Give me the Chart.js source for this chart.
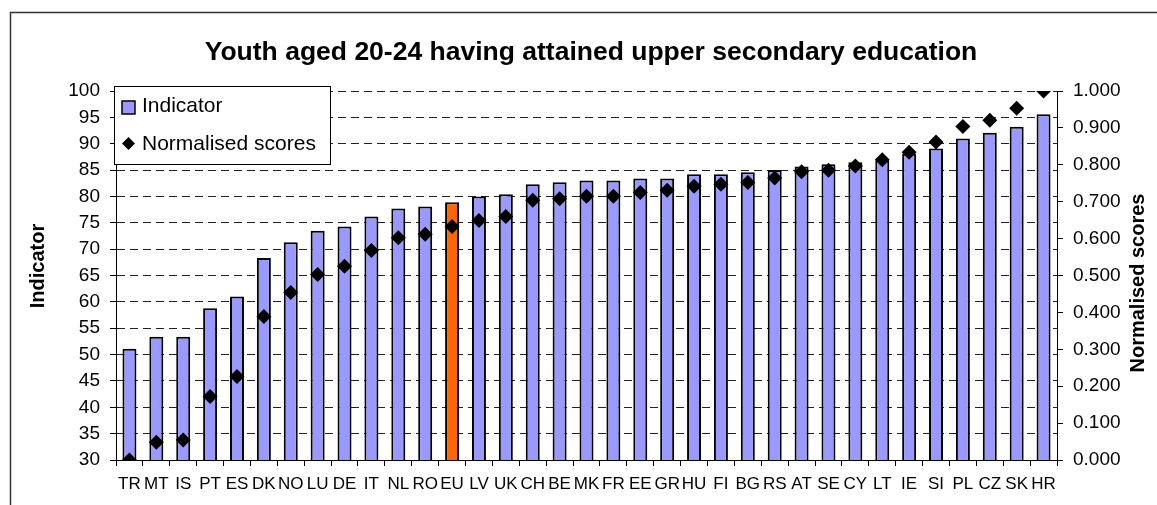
<!DOCTYPE html>
<html>
<head>
<meta charset="utf-8">
<script src="https://cdn.jsdelivr.net/npm/chart.js@4/dist/chart.umd.min.js"></script>
<style>
  html, body { margin: 0; padding: 0; background: #fff; overflow: hidden; }
  #wrap { width: 1157px; height: 505px; }
</style>
</head>
<body>
<div id="wrap"><canvas id="youthChart" width="1157" height="505"></canvas></div>
<script>
// values
const countries = ['TR','MT','IS','PT','ES','DK','NO','LU','DE','IT','NL','RO','EU','LV','UK','CH','BE','MK','FR','EE','GR','HU','FI','BG','RS','AT','SE','CY','LT','IE','SI','PL','CZ','SK','HR'];
const indicator = [51.1, 53.4, 53.4, 58.8, 61.0, 68.3, 71.3, 73.5, 74.3, 76.2, 77.7, 78.1, 78.9, 80.0, 80.4, 82.3, 82.7, 83.0, 83.0, 83.4, 83.4, 84.2, 84.2, 84.6, 85.0, 85.7, 86.1, 86.5, 86.8, 88.1, 89.1, 91.0, 92.1, 93.2, 95.6];
const normalised = [0.000, 0.048, 0.054, 0.172, 0.226, 0.389, 0.454, 0.503, 0.525, 0.568, 0.602, 0.612, 0.633, 0.649, 0.660, 0.704, 0.708, 0.715, 0.715, 0.725, 0.731, 0.742, 0.747, 0.752, 0.764, 0.781, 0.785, 0.797, 0.814, 0.834, 0.862, 0.904, 0.921, 0.953, 1.000];
const highlight = 'EU';

const titleText = 'Youth aged 20-24 having attained upper secondary education';
const FONT = "'Liberation Sans', Arial, sans-serif";

const barColors = countries.map(c => c === highlight ? '#FF6600' : '#9999FF');

// title, axis titles, legend and the outer frame
const decor = {
  id: 'decor',
  beforeDraw(chart) {
    const ctx = chart.ctx;
    ctx.save();
    ctx.fillStyle = '#fff';
    ctx.fillRect(0, 0, chart.width, chart.height);
    ctx.strokeStyle = '#333';
    ctx.lineWidth = 1.5;
    ctx.strokeRect(10.5, 12.5, 1300, 600);
    ctx.restore();
  },
  afterDraw(chart) {
    const ctx = chart.ctx;
    ctx.save();
    ctx.fillStyle = '#000';
    ctx.textBaseline = 'middle';

    // title
    ctx.font = 'bold 26.5px ' + FONT;
    ctx.textAlign = 'center';
    ctx.fillText(titleText, 591, 53);

    // axis titles
    ctx.font = 'bold 20px ' + FONT;
    ctx.save();
    ctx.translate(38, 266);
    ctx.rotate(-Math.PI / 2);
    ctx.fillText('Indicator', 0, 0);
    ctx.restore();
    ctx.save();
    ctx.translate(1138, 283);
    ctx.rotate(-Math.PI / 2);
    ctx.fillText('Normalised scores', 0, 0);
    ctx.restore();

    // legend box
    ctx.fillStyle = '#fff';
    ctx.fillRect(114, 86, 216, 78);
    ctx.strokeStyle = '#000';
    ctx.lineWidth = 1;
    ctx.strokeRect(114.5, 86.5, 216, 78);

    ctx.fillStyle = '#9999FF';
    ctx.fillRect(122, 101, 13, 13);
    ctx.lineWidth = 1.5;
    ctx.strokeRect(122, 101, 13, 13);

    ctx.fillStyle = '#000';
    ctx.beginPath();
    ctx.moveTo(128.5, 137);
    ctx.lineTo(135, 143.5);
    ctx.lineTo(128.5, 150);
    ctx.lineTo(122, 143.5);
    ctx.closePath();
    ctx.fill();

    ctx.font = '21px ' + FONT;
    ctx.textAlign = 'left';
    ctx.fillText('Indicator', 142, 106);
    ctx.fillText('Normalised scores', 142, 144);
    ctx.restore();
  }
};

new Chart(document.getElementById('youthChart'), {
  type: 'bar',
  data: {
    labels: countries,
    datasets: [
      {
        type: 'line',
        label: 'Normalised scores',
        data: normalised,
        yAxisID: 'y1',
        showLine: false,
        pointStyle: 'rectRot',
        pointRadius: 7.5,
        pointBackgroundColor: '#000',
        pointBorderColor: '#000',
        pointBorderWidth: 0,
        order: 0
      },
      {
        label: 'Indicator',
        data: indicator,
        yAxisID: 'y',
        backgroundColor: barColors,
        borderColor: '#000',
        borderWidth: 2,
        borderSkipped: false,
        categoryPercentage: 1,
        barPercentage: 0.52,
        order: 1
      }
    ]
  },
  options: {
    responsive: false,
    animation: false,
    layout: { padding: { top: 91, left: 0, right: 0, bottom: 0 } },
    plugins: {
      legend: { display: false },
      title: { display: false },
      tooltip: { enabled: false }
    },
    scales: {
      x: {
        offset: true,
        grid: { offset: true, drawOnChartArea: false, drawTicks: true, tickLength: 6, color: '#000' },
        border: { display: true, color: '#000', width: 1 },
        ticks: {
          autoSkip: false, maxRotation: 0, minRotation: 0, padding: 8,
          color: '#000', font: { family: FONT, size: 17 }
        },
        afterFit(scale) { scale.height = 45; }
      },
      y: {
        position: 'left',
        min: 30, max: 100,
        ticks: { stepSize: 5, padding: 10, color: '#000', font: { family: FONT, size: 19 } },
        grid: { color: '#222', tickBorderDash: [], tickColor: '#000', tickLength: 6 },
        border: { display: true, color: '#000', width: 1, dash: [8, 5] },
        afterFit(scale) { scale.width = 116; }
      },
      y1: {
        position: 'right',
        min: 0, max: 1,
        ticks: {
          stepSize: 0.1, padding: 10, color: '#000',
          font: { family: FONT, size: 19 },
          callback: v => v.toFixed(3)
        },
        grid: { drawOnChartArea: false, color: '#000', tickLength: 6 },
        border: { display: true, color: '#000', width: 1 },
        afterFit(scale) { scale.width = 100; }
      }
    }
  },
  plugins: [decor]
});
</script>
</body>
</html>
